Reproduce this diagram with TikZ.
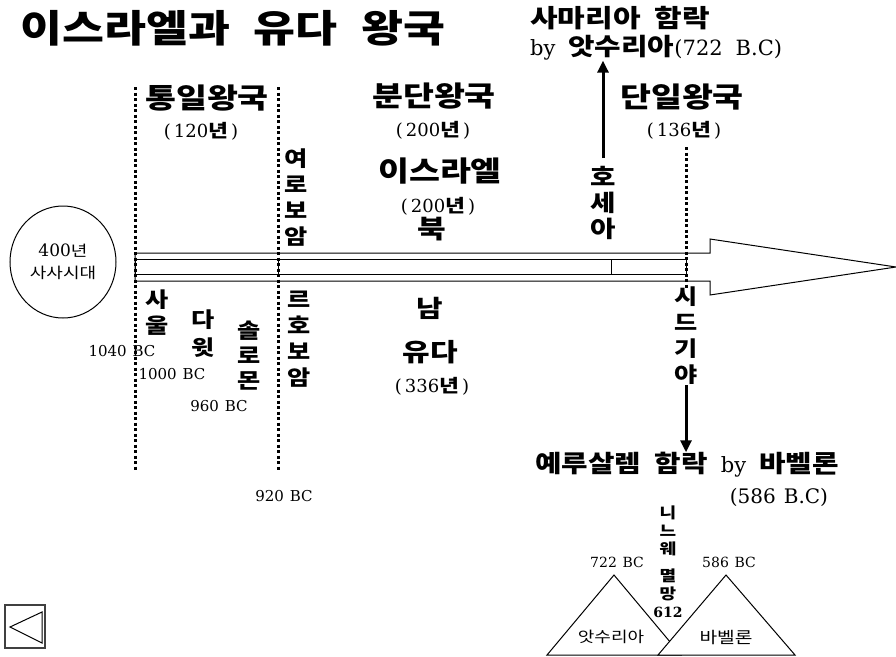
\documentclass[tikz,border=0pt]{standalone}
\usepackage{fontspec}
\setmainfont{DejaVu Serif}
\newfontfamily\kr{Noto Sans CJK KR}[FakeStretch=1.2]
\usetikzlibrary{arrows.meta,positioning,shapes.geometric}
\newcommand{\yrs}[1]{(\,#1{\kr\bfseries 년}\,)}

\begin{document}
\begin{tikzpicture}[
        x=1pt, y=-1pt,
        title/.style={font=\kr\bfseries\fontsize{38}{40}\selectfont, inner sep=0pt},
        head/.style={font=\kr\bfseries\fontsize{28}{30}\selectfont, inner sep=0pt},
        years/.style={font=\fontsize{18}{22}\selectfont, inner sep=0pt},
        vtext/.style={font=\kr\bfseries\fontsize{21}{26}\selectfont, align=center, inner sep=0pt},
        date/.style={font=\fontsize{15}{18}\selectfont, inner sep=0pt},
        divider/.style={dash pattern=on 3pt off 2.5pt, line width=3pt},
        arrow/.style={-{Triangle[length=12pt,width=11pt]}, line width=3pt},
        thin/.style={line width=1pt}
    ]
        \useasboundingbox (0,0) rectangle (896,656);

        \node[title, anchor=west] (title) at (20,28) {이스라엘과\hspace{0.35em} 유다\hspace{0.35em} 왕국};

        % headers
        \node[head] (united) at (207,98) {통일왕국};
        \node[years] (unitedyrs) at (201,131) {\yrs{120}};
        \node[head] (divided) at (434,96) {분단왕국};
        \node[years] (dividedyrs) at (433,130) {\yrs{200}};
        \node[head] (single) at (682,97) {단일왕국};
        \node[years] (singleyrs) at (684,130) {\yrs{136}};

        % north kingdom
        \node[head] (israel) at (440,171) {이스라엘};
        \node[years] (israelyrs) at (438,206) {\yrs{200}};
        \node[head, font=\kr\bfseries\fontsize{26}{30}\selectfont] (north) at (432,229) {북};
        \node[vtext] (jeroboam) at (296,198) {여\\로\\보\\암};
        \node[vtext, font=\kr\bfseries\fontsize{23}{26}\selectfont] (hosea) at (603,203) {호\\세\\아};
        \node[anchor=west, inner sep=0pt, font=\kr\bfseries\fontsize{25}{28}\selectfont] (samaria) at (530,18) {사마리아\hspace{0.3em} 함락};
        \node[anchor=west, inner sep=0pt, font=\fontsize{21}{26}\selectfont] (samariaby) at (530,48) {by\hspace{0.3em} {\kr\bfseries\fontsize{24}{26}\selectfont 앗수리아}(722\hspace{0.3em} B.C)};

        % judges
        \node[draw, thin, ellipse, minimum width=106pt, minimum height=112pt, align=center,
              font=\fontsize{17}{22}\selectfont] (judges) at (63,262) {400{\kr\fontsize{15}{22}\selectfont 년}\\{\kr\fontsize{15}{22}\selectfont 사사시대}};

        % time bar
        \draw[thin] (135,253) -- (710,253) -- (710,239) -- (896,267) -- (710,295) -- (710,281) -- (135,281) -- cycle;
        \draw[thin] (135,259) rectangle (686,274);
        \draw[thin] (278,259) -- (278,274);
        \draw[thin] (611,259) -- (611,274);

        \draw[divider] (135,87) -- (135,471);
        \draw[divider] (278,87) -- (278,471);
        \draw[divider] (686,147) -- (686,288);

        % kings below
        \node[vtext] (saul) at (157,313) {사\\울};
        \node[vtext, font=\kr\bfseries\fontsize{21}{28}\selectfont] (david) at (203,334) {다\\윗};
        \node[vtext, font=\kr\bfseries\fontsize{21}{25}\selectfont] (solomon) at (249,356) {솔\\로\\몬};
        \node[vtext] (rehoboam) at (299,339) {르\\호\\보\\암};
        \node[date] (d1040) at (122,351) {1040\hspace{0.4em}BC};
        \node[date] (d1000) at (172,374) {1000\hspace{0.4em}BC};
        \node[date] (d960) at (219,406) {960\hspace{0.4em}BC};
        \node[date] (d920) at (284,496) {920\hspace{0.4em}BC};

        % south kingdom
        \node[head, font=\kr\bfseries\fontsize{24}{26}\selectfont] (south) at (430,308) {남};
        \node[head, font=\kr\bfseries\fontsize{25}{26}\selectfont] (judah) at (430,352) {유다};
        \node[years] (judahyrs) at (432,386) {\yrs{336}};
        \node[vtext] (zedekiah) at (686,336) {시\\드\\기\\야};
        \node[anchor=west, inner sep=0pt, font=\fontsize{21}{26}\selectfont] (jerusalem) at (535,465) {{\kr\bfseries\fontsize{24}{26}\selectfont 예루살렘\hspace{0.3em} 함락}\hspace{0.3em} by\hspace{0.3em} {\kr\bfseries\fontsize{24}{26}\selectfont 바벨론}};
        \node[inner sep=0pt, font=\fontsize{20}{26}\selectfont] (babylonyr) at (779,497) {(586\hspace{0.4em}B.C)};

        \draw[arrow, shorten <=8pt] (hosea.north) -- (hosea.north |- samariaby.south);
        \draw[arrow] (zedekiah.south) -- (zedekiah.south |- jerusalem.north);

        % empires
        \node[vtext, font=\kr\bfseries\fontsize{15}{18}\selectfont] (nineveh) at (668,562) {니\\느\\웨\\[9pt]멸\\망\\{\rmfamily\fontsize{14}{18}\selectfont 612}};
        \draw[thin] (547,655) -- (614,575) -- (681,655) -- cycle;
        \draw[thin, fill=white] (658,655) -- (726,575) -- (795,655) -- cycle;
        \node[inner sep=0pt, font=\kr\fontsize{15}{18}\selectfont] (assyria) at (611,637) {앗수리아};
        \node[inner sep=0pt, font=\kr\fontsize{16}{18}\selectfont] (babylon) at (726,637) {바벨론};
        \node[date, font=\fontsize{14}{18}\selectfont] (d722) at (617,562) {722\hspace{0.4em}BC};
        \node[date, font=\fontsize{14}{18}\selectfont] (d586) at (729,562) {586\hspace{0.4em}BC};

        % back button
        \draw[line width=1.5pt, black!75] (5,605) rectangle (45,648);
        \draw[thin] (10,627) -- (42,612) -- (42,643) -- cycle;
    \end{tikzpicture}
\end{document}
